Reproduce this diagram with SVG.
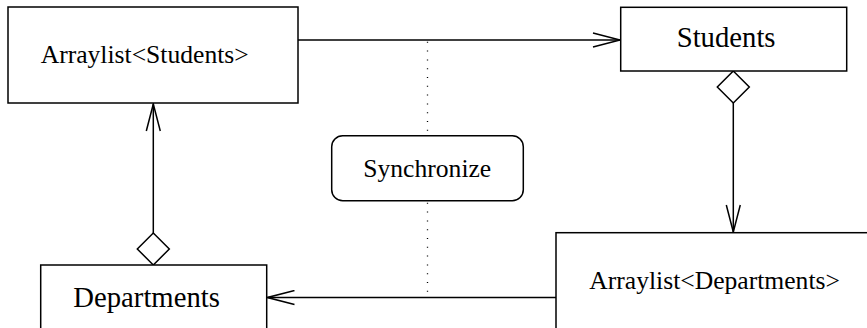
<svg xmlns="http://www.w3.org/2000/svg" width="867" height="328" viewBox="0 0 867 328">
<style>
.box{fill:#fff;stroke:#000;stroke-width:1.5}
.t{font-family:"Liberation Serif","Times New Roman",serif;fill:#000}
.s{font-size:25.6px}
.l{font-size:28.7px}
.c{fill:none;stroke:#000;stroke-width:1.5}
.dot{fill:none;stroke:#000;stroke-width:1.3;stroke-dasharray:1 7.8}
</style>
<defs>
<marker id="arrow" markerUnits="userSpaceOnUse" markerWidth="30" markerHeight="16" viewBox="0 0 30 16" refX="28" refY="8" orient="auto">
<path d="M1,1 L28,8 L1,15" fill="none" stroke="#000" stroke-width="1.5"/>
</marker>
<marker id="diamond" markerUnits="userSpaceOnUse" markerWidth="36" markerHeight="36" viewBox="0 0 36 36" refX="1" refY="18" orient="auto">
<path d="M1,18 L17,2 L33,18 L17,34 Z" fill="#fff" stroke="#000" stroke-width="1.5"/>
</marker>
</defs>
<g id="connectors">
<line class="dot" x1="427.5" y1="41.8" x2="427.5" y2="132"/>
<line class="dot" x1="427.5" y1="202.8" x2="427.5" y2="294"/>
<line class="c" x1="298" y1="40" x2="620" y2="40" marker-end="url(#arrow)"/>
<line class="c" x1="733.3" y1="71" x2="733.3" y2="232" marker-start="url(#diamond)" marker-end="url(#arrow)"/>
<line class="c" x1="153.3" y1="265" x2="153.3" y2="104" marker-start="url(#diamond)" marker-end="url(#arrow)"/>
<line class="c" x1="556" y1="297.5" x2="267.5" y2="297.5" marker-end="url(#arrow)"/>
</g>
<g id="arraylist-students">
<rect class="box" x="8" y="7" width="290" height="96"/>
<text class="t s" x="40.7" y="63">Arraylist&lt;Students&gt;</text>
</g>
<g id="students">
<rect class="box" x="620.7" y="7.3" width="226" height="63.7"/>
<text class="t l" x="676.7" y="46.7">Students</text>
</g>
<g id="synchronize">
<rect class="box" x="331.7" y="135.7" width="191.6" height="65" rx="11" ry="11"/>
<text class="t s" x="363.3" y="176.7">Synchronize</text>
</g>
<g id="departments">
<rect class="box" x="40.7" y="265" width="226" height="100"/>
<text class="t l" x="73.3" y="306.7">Departments</text>
</g>
<g id="arraylist-departments">
<rect class="box" x="556" y="232.7" width="400" height="150"/>
<text class="t s" x="589.3" y="289.3">Arraylist&lt;Departments&gt;</text>
</g>
</svg>
